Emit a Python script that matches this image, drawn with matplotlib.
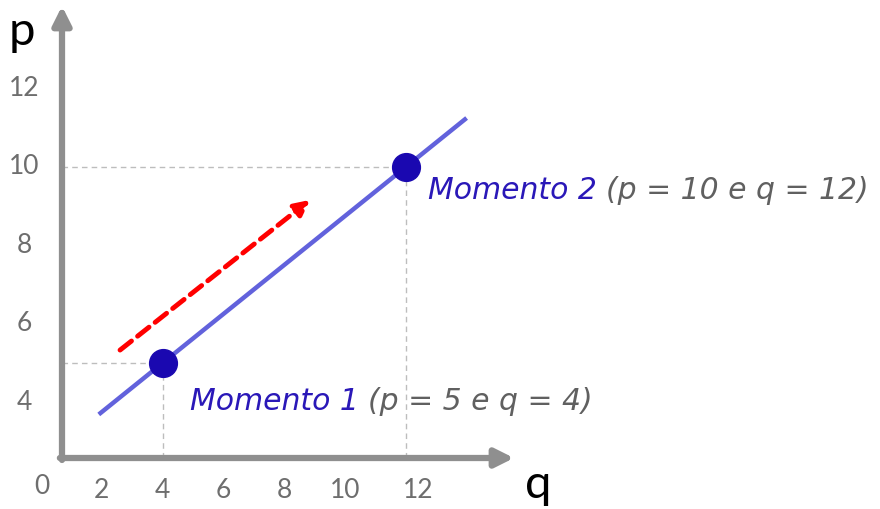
import matplotlib
matplotlib.use("Agg")
import matplotlib.pyplot as plt

# data
q_points = [4, 12]
p_points = [5, 10]
line_q = [1.9, 14.0]
line_p = [2.5 + 0.625 * v for v in line_q]
arrow_start = (2.6, 5.33)
arrow_end = (8.85, 9.16)
x_ticks = [2, 4, 6, 8, 10, 12]
y_ticks = [4, 6, 8, 10, 12]
labels_main = ["Momento 1", "Momento 2"]
labels_sub = ["(p = 5 e q = 4)", "(p = 10 e q = 12)"]

W, H = 880, 509
fig = plt.figure(figsize=(W / 100, H / 100), dpi=100)
ax = fig.add_axes([0, 0, 1, 1])
sx, ox = 30.4, 41
sy, oy = 39.2, 559
ax.set_xlim(-ox / sx, (W - ox) / sx)
ax.set_ylim((oy - H) / sy, oy / sy)
ax.axis("off")

x0 = (62 - ox) / sx
y0 = (oy - 458) / sy
axis_col = "#8f8f8f"
# axes arrows
ax.annotate("", xy=(x0, (oy - 6) / sy), xytext=(x0, y0 - 0.05),
            arrowprops=dict(arrowstyle="-|>,head_length=1.1,head_width=0.55",
                            color=axis_col, lw=4.5, shrinkA=0, shrinkB=0))
ax.annotate("", xy=((514 - ox) / sx, y0), xytext=(x0 - 0.07, y0),
            arrowprops=dict(arrowstyle="-|>,head_length=1.1,head_width=0.55",
                            color=axis_col, lw=4.5, shrinkA=0, shrinkB=0))

# guide lines
for qv, pv in zip(q_points, p_points):
    ax.plot([x0, qv], [pv, pv], ls=(0, (4, 3)), color="#bdbdbd", lw=1.0, zorder=1)
    ax.plot([qv, qv], [y0, pv], ls=(0, (4, 3)), color="#bdbdbd", lw=1.0, zorder=1)

# main line
ax.plot(line_q, line_p, color="#6262dc", lw=3.2, solid_capstyle="butt", zorder=2)
ax.plot(q_points, p_points, "o", color="#1a08b0", markersize=20, zorder=3)

# red arrow
ax.annotate("", xy=arrow_end, xytext=arrow_start,
            arrowprops=dict(arrowstyle="-|>,head_length=0.9,head_width=0.45",
                            color="red", lw=3.5, ls=(0, (3, 1.6)),
                            shrinkA=0, shrinkB=0))

# tick labels
tick_col = "#6e6e6e"
for v in y_ticks:
    ax.text(-0.55, v, str(v), ha="center", va="center", fontsize=19,
            family="Lato", color=tick_col)
for v in x_ticks:
    xv = v + (0.4 if v == 12 else 0)
    ax.text(xv, 1.74, str(v), ha="center", va="center", fontsize=19,
            family="Lato", color=tick_col)
ax.text(0.03, 1.84, "0", ha="center", va="center", fontsize=19,
        family="Lato", color=tick_col)
ax.text(-0.63, 13.45, "p", ha="center", va="center", fontsize=34,
        family="Lato", color="black")
ax.text(16.35, 1.9, "q", ha="center", va="center", fontsize=34,
        family="Lato", color="black")

# annotations
pos = [((190 - ox) / sx, (oy - 410) / sy), ((428 - ox) / sx, (oy - 199) / sy)]
for (tx, ty), m, s in zip(pos, labels_main, labels_sub):
    t = ax.text(tx, ty, m + " ", ha="left", va="baseline", fontsize=21.5,
                style="italic", family="DejaVu Sans", color="#2a18b8")
    fig.canvas.draw()
    bb = t.get_window_extent()
    xe = ax.transData.inverted().transform((bb.x1, 0))[0]
    ax.text(xe, ty, s, ha="left", va="baseline", fontsize=21.5,
            style="italic", family="DejaVu Sans", color="#606060")

fig.savefig("out.png", dpi=100)
